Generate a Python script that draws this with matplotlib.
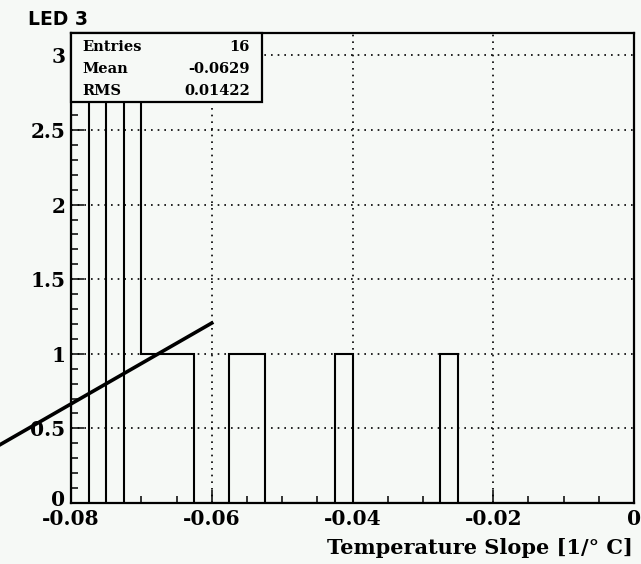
import numpy as np
import matplotlib.pyplot as plt
import matplotlib.transforms as mtransforms
from matplotlib.patches import Rectangle
from matplotlib.ticker import MultipleLocator

# histogram data (32 bins from -0.08 to 0)
x_lo, x_hi, n_bins = -0.08, 0.0, 32
counts = [3, 3, 3, 3, 1, 1, 1, 0, 0, 1, 1, 0, 0, 0, 0, 1,
          0, 0, 0, 0, 0, 1, 0, 0, 0, 0, 0, 0, 0, 0, 0, 0]
stat_names = ['Entries', 'Mean', 'RMS']
stat_values = ['16', '-0.0629', '0.01422']
title = 'LED 3'
xlabel = 'Temperature Slope [1/\u00b0 C]'
x_ticks = [-0.08, -0.06, -0.04, -0.02, 0]
x_ticklabels = ['-0.08', '-0.06', '-0.04', '-0.02', '0']
y_ticks = [0, 0.5, 1, 1.5, 2, 2.5, 3]
y_ticklabels = ['0', '0.5', '1', '1.5', '2', '2.5', '3']
# the slanted marker line drawn over the plot (data coords)
mark_x = [-0.09, -0.06]
mark_y = [0.393, 1.206]

bg = '#f6f9f6'
serif = 'DejaVu Serif'

fig = plt.figure(figsize=(6.41, 5.64), dpi=100, facecolor=bg)
ax = fig.add_axes([71/641, 1 - 503/564, 563/641, 470/564], facecolor=bg)

edges = np.linspace(x_lo, x_hi, n_bins + 1)
counts = np.array(counts)
ax.stairs(counts, edges, color='black', linewidth=1.5, baseline=0)

# tall bins show separate edges
tall = counts >= 3
inner = [edges[i] for i in range(1, n_bins) if tall[i - 1] and tall[i]]
ax.vlines(inner, 0, counts.max(), color='black', linewidth=1.5)

ax.set_xlim(x_lo, x_hi)
ax.set_ylim(0, 1.05 * counts.max())

ax.set_xticks(x_ticks)
ax.set_xticklabels(x_ticklabels)
ax.set_yticks(y_ticks)
ax.set_yticklabels(y_ticklabels)
ax.xaxis.set_minor_locator(MultipleLocator(0.005))
ax.yaxis.set_minor_locator(MultipleLocator(0.1))
ax.tick_params(which='both', direction='in', top=False, right=False, width=1.1, color='black')
ax.tick_params(which='major', length=9.5)
ax.tick_params(which='minor', length=5)
ax.tick_params(axis='x', pad=4)
ax.tick_params(axis='y', pad=4)
for lab in ax.get_xticklabels() + ax.get_yticklabels():
    lab.set_fontfamily(serif)
    lab.set_fontweight('bold')
    lab.set_fontsize(14.5)

# lift the "0" on the y axis a little, as ROOT does
zero_lab = ax.get_yticklabels()[0]
zero_lab.set_transform(zero_lab.get_transform() +
                       mtransforms.ScaledTranslation(0, 5/100, fig.dpi_scale_trans))

ax.grid(True, which='major', color='black', linestyle=(0, (1, 3)), linewidth=1.2)
for s in ax.spines.values():
    s.set_linewidth(1.6)

# marker line
ax.plot(mark_x, mark_y, color='black', linewidth=2.6, clip_on=False, zorder=5)

# stat box
bx1 = (262 - 71) / 563
by0 = (503 - 102) / 470
ax.add_patch(Rectangle((0, by0), bx1, 1 - by0, transform=ax.transAxes,
                       facecolor=bg, edgecolor='black', linewidth=1.6, zorder=6, clip_on=False))
row_y = [(503 - 47) / 470, (503 - 69) / 470, (503 - 91) / 470]
for name, val, yy in zip(stat_names, stat_values, row_y):
    ax.text(0.02, yy, name, transform=ax.transAxes, ha='left', va='center',
            family=serif, fontweight='bold', fontsize=10.5, zorder=7)
    ax.text(0.318, yy, val, transform=ax.transAxes, ha='right', va='center',
            family=serif, fontweight='bold', fontsize=10.5, zorder=7)

fig.text(28/641, 1 - 25/564, title, ha='left', va='baseline',
         family='DejaVu Sans', fontweight='bold', fontsize=13.5)
fig.text(633/641, 1 - 554/564, xlabel, ha='right', va='baseline',
         family=serif, fontweight='bold', fontsize=15)

plt.savefig('out.png', dpi=100, facecolor=bg)
